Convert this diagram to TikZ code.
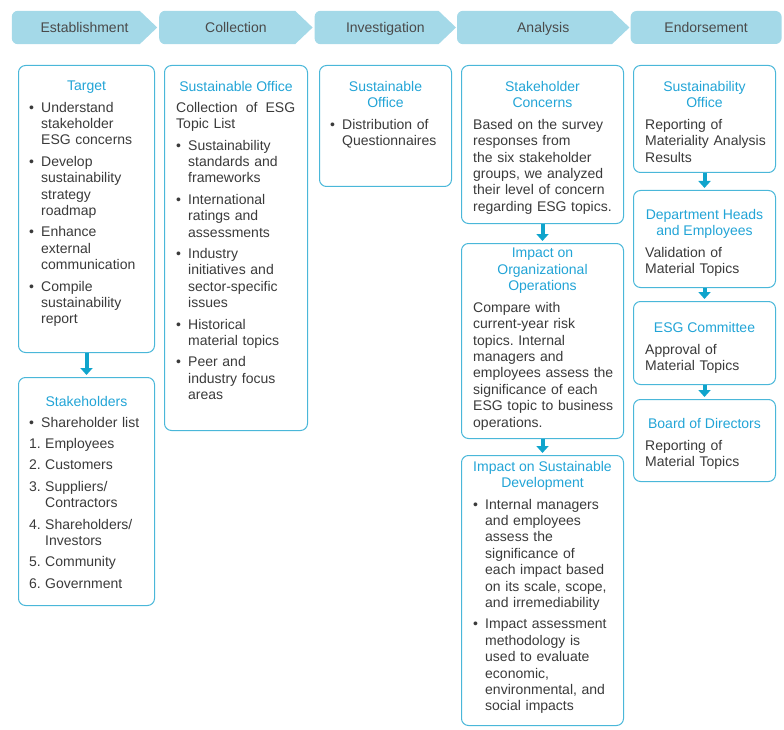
\documentclass[tikz,border=0pt]{standalone}
\usepackage{fontspec}
\setmainfont{Liberation Sans}
\usepackage{enumitem}
\usetikzlibrary{positioning,arrows.meta,calc,backgrounds}
\definecolor{stagefill}{HTML}{A4D9E8}
\definecolor{stagetext}{HTML}{4A4A4A}
\definecolor{boxcyan}{HTML}{4AB7D9}
\definecolor{titlecyan}{HTML}{22A4D6}
\definecolor{arrowcyan}{HTML}{0FA4CC}
\definecolor{bodygray}{HTML}{3A3A3A}
\setlist[itemize]{label=\textbullet, leftmargin=12pt, labelwidth=6pt, labelsep=6pt, labelindent=0pt, align=left, topsep=5pt, itemsep=5pt, parsep=0pt, partopsep=0pt}
\setlist[enumerate]{label=\arabic*., leftmargin=16pt, labelwidth=12pt, labelsep=4pt, labelindent=0pt, align=left, topsep=5pt, itemsep=5pt, parsep=0pt, partopsep=0pt}
\frenchspacing

\begin{document}
\begin{tikzpicture}[
    x=1pt, y=-1pt,
    every node/.style={font=\fontsize{14pt}{16.4pt}\selectfont},
    stage/.style={minimum height=33pt, inner sep=0pt, text height=12pt, text depth=1pt, text=stagetext},
    box/.style={draw=boxcyan, line width=1pt, rounded corners=7pt, inner sep=0pt, anchor=north west},
    boxtitle/.style={anchor=north, align=center, inner sep=0pt, text=titlecyan},
    boxtext/.style={anchor=north west, align=left, inner sep=0pt, text=bodygray},
    flowarrow/.style={-{Triangle[width=12pt,length=7pt]}, line width=4pt, arrowcyan, shorten >=2pt},
]
\useasboundingbox (0,0) rectangle (784,730);

% ---- Top: stages ----
\node[stage, minimum width=145pt] (establish) at (84.5,27.5) {Establishment};
\node[stage, minimum width=153pt, right=2pt of establish] (collect) {Collection};
\node[stage, minimum width=141pt, right=2pt of collect] (investig) {Investigation};
\node[stage, minimum width=172pt, right=1pt of investig] (analysis) {Analysis};
\node[stage, minimum width=151pt, right=1pt of analysis, fill=stagefill, rounded corners=6pt] (endorse) {Endorsement};

\begin{scope}[on background layer]
\foreach \s in {establish,collect,investig,analysis}
  \fill[stagefill] ([xshift=6pt]\s.north west) -- ([xshift=-17.5pt]\s.north east) -- (\s.east)
    -- ([xshift=-17.5pt]\s.south east) -- ([xshift=6pt]\s.south west)
    arc[start angle=270, end angle=180, radius=6pt] -- ([yshift=-6pt]\s.north west)
    arc[start angle=180, end angle=90, radius=6pt] -- cycle;
\end{scope}

% ---- Establishment ----
\node[box, minimum width=136pt, minimum height=287pt] (target) at (18,65) {};
\node[boxtitle] (targethead) at ([yshift=-16pt]target.north) {Target};
\node[boxtext, text width=112pt] (targettext) at ([xshift=11pt,yshift=-25.5pt]target.north west) {%
  \begin{itemize}
  \item Understand\\stakeholder\\ESG concerns
  \item Develop\\sustainability\\strategy\\roadmap
  \item Enhance\\external\\communication
  \item Compile\\sustainability\\report
  \end{itemize}};

\node[box, minimum width=136pt, minimum height=228pt, below=24pt of target] (stakeholders) {};
\node[boxtitle] (stakeholdershead) at ([yshift=-19pt]stakeholders.north) {Stakeholders};
\node[boxtext, text width=112pt] (stakeholderstext) at ([xshift=11pt,yshift=-28.5pt]stakeholders.north west) {%
  \begin{itemize}
  \item Shareholder list
  \end{itemize}
  \begin{enumerate}
  \item Employees
  \item Customers
  \item Suppliers/\\Contractors
  \item Shareholders/\\Investors
  \item Community
  \item Government
  \end{enumerate}};

% ---- Collection ----
\node[box, minimum width=143pt, minimum height=365pt] (sustoffice) at (164,65) {};
\node[boxtitle] (sustofficehead) at ([yshift=-16pt]sustoffice.north) {Sustainable Office};
\node[boxtext, text width=119pt] (sustofficetext) at ([xshift=12pt,yshift=-37pt]sustoffice.north west) {%
  Collection\hfill of\hfill ESG\\Topic List
  \begin{itemize}
  \item Sustainability\\standards and\\frameworks
  \item International\\ratings and\\assessments
  \item Industry\\initiatives and\\sector-specific\\issues
  \item Historical\\material topics
  \item Peer and\\industry focus\\areas
  \end{itemize}};

% ---- Investigation ----
\node[box, minimum width=132pt, minimum height=121pt] (questionnaire) at (319,65) {};
\node[boxtitle] (questionnairehead) at ([yshift=-16pt]questionnaire.north) {Sustainable\\Office};
\node[boxtext, text width=114pt] (questionnairetext) at ([xshift=11pt,yshift=-42.5pt]questionnaire.north west) {%
  \begin{itemize}
  \item Distribution of\\Questionnaires
  \end{itemize}};

% ---- Analysis ----
\node[box, minimum width=162pt, minimum height=158pt] (concerns) at (461,65) {};
\node[boxtitle] (concernshead) at ([yshift=-16pt]concerns.north) {Stakeholder\\Concerns};
\node[boxtext, text width=146pt] (concernstext) at ([xshift=12pt,yshift=-54pt]concerns.north west) {%
  Based on the survey\\responses from\\the six stakeholder\\groups, we analyzed\\their level of concern\\regarding ESG topics.};

\node[box, minimum width=162pt, minimum height=195pt, below=19pt of concerns] (orgops) {};
\node[boxtitle] (orgopshead) at ([yshift=-5pt]orgops.north) {Impact on\\Organizational\\Operations};
\node[boxtext, text width=146pt] (orgopstext) at ([xshift=12pt,yshift=-59pt]orgops.north west) {%
  Compare with\\current-year risk\\topics. Internal\\managers and\\employees assess the\\significance of each\\ESG topic to business\\operations.};

\node[box, minimum width=162pt, minimum height=270pt, below=16pt of orgops] (sustdev) {};
\node[boxtitle] (sustdevhead) at ([yshift=-6pt]sustdev.north) {Impact on Sustainable\\Development};
\node[boxtext, text width=146pt] (sustdevtext) at ([xshift=12pt,yshift=-32.5pt]sustdev.north west) {%
  \begin{itemize}
  \item Internal managers\\and employees\\assess the\\significance of\\each impact based\\on its scale, scope,\\and irremediability
  \item Impact assessment\\methodology is\\used to evaluate\\economic,\\environmental, and\\social impacts
  \end{itemize}};

% ---- Endorsement ----
\node[box, minimum width=142pt, minimum height=107pt] (reporting) at (633,65) {};
\node[boxtitle] (reportinghead) at ([yshift=-16pt]reporting.north) {Sustainability\\Office};
\node[boxtext, text width=126pt] (reportingtext) at ([xshift=12pt,yshift=-54pt]reporting.north west) {%
  Reporting of\\Materiality Analysis\\Results};

\node[box, minimum width=142pt, minimum height=97pt, below=17pt of reporting] (validation) {};
\node[boxtitle] (validationhead) at ([yshift=-19pt]validation.north) {Department Heads\\and Employees};
\node[boxtext, text width=126pt] (validationtext) at ([xshift=12pt,yshift=-57pt]validation.north west) {%
  Validation of\\Material Topics};

\node[box, minimum width=142pt, minimum height=83pt, below=13pt of validation] (approval) {};
\node[boxtitle] (approvalhead) at ([yshift=-21pt]approval.north) {ESG Committee};
\node[boxtext, text width=126pt] (approvaltext) at ([xshift=12pt,yshift=-43pt]approval.north west) {%
  Approval of\\Material Topics};

\node[box, minimum width=142pt, minimum height=82pt, below=14pt of approval] (board) {};
\node[boxtitle] (boardhead) at ([yshift=-19pt]board.north) {Board of Directors};
\node[boxtext, text width=126pt] (boardtext) at ([xshift=12pt,yshift=-41pt]board.north west) {%
  Reporting of\\Material Topics};

% ---- Arrows ----
\draw[flowarrow] (target) -- (stakeholders);
\draw[flowarrow] (concerns) -- (orgops);
\draw[flowarrow] (orgops) -- (sustdev);
\draw[flowarrow] (reporting) -- (validation);
\draw[flowarrow] (validation) -- (approval);
\draw[flowarrow] (approval) -- (board);

\end{tikzpicture}
\end{document}
